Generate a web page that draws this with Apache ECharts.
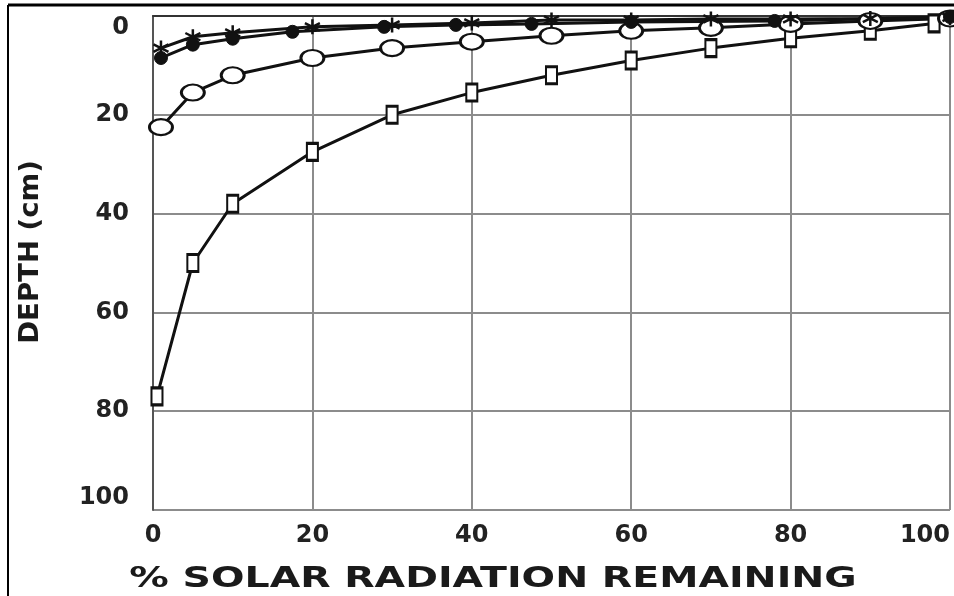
<!DOCTYPE html>
<html>
<head>
<meta charset="utf-8">
<script src="https://cdn.jsdelivr.net/npm/echarts@6/dist/echarts.min.js"></script>
<style>
  html, body { margin: 0; padding: 0; background: #fff; }
  #chart { width: 954px; height: 596px; }
</style>
</head>
<body>
<div id="chart"></div>
<script>
// % solar radiation remaining vs depth (cm), four curves
const xTicks = [0, 20, 40, 60, 80, 100];
const depthTicks = [0, 20, 40, 60, 80, 100];
const xTitle = '% SOLAR RADIATION REMAINING';
const yTitle = 'DEPTH (cm)';

const dotData = [[1, 8.5], [5, 5.8], [10, 4.6], [17.5, 3.2], [29, 2.2], [38, 1.8], [47.5, 1.6], [60, 1.2], [78, 1], [100, 0.2]];
const starData = [[1, 6.5], [5, 4.2], [10, 3.4], [20, 2.2], [30, 1.8], [40, 1.4], [50, 0.8], [60, 0.8], [70, 0.6], [80, 0.6], [90, 0.5], [100, 0.3]];
const circleData = [[1, 22.5], [5, 15.5], [10, 12], [20, 8.5], [30, 6.5], [40, 5.2], [50, 4], [60, 3], [70, 2.4], [80, 1.6], [90, 1], [100, 0.5]];
const squareData = [[0.5, 77], [5, 50], [10, 38], [20, 27.5], [30, 20], [40, 15.5], [50, 12], [60, 9], [70, 6.5], [80, 4.5], [90, 3], [98, 1.5]];

const chart = echarts.init(document.getElementById('chart'));

const lineBase = {
    type: 'line',
    lineStyle: { color: '#111', width: 3 },
    z: 3
};
const labelFont = { fontFamily: 'DejaVu Sans', fontWeight: 'bold', fontSize: 24, color: '#222' };

const option = {
    backgroundColor: '#fff',
    animation: false,
    grid: { left: 153, right: 4, top: 16, bottom: 86, outerBoundsMode: 'none', containLabel: false },
    xAxis: {
        type: 'value',
        min: xTicks[0],
        max: xTicks[xTicks.length - 1],
        interval: 20,
        axisLine: { lineStyle: { color: '#333', width: 2 } },
        axisTick: { show: false },
        axisLabel: Object.assign({
            margin: 14,
            alignMaxLabel: 'right',
            formatter: v => xTicks.includes(v) ? String(v) : ''
        }, labelFont),
        splitLine: { show: true, lineStyle: { color: '#8c8c8c', width: 2 } }
    },
    yAxis: {
        type: 'value',
        inverse: true,
        min: depthTicks[0],
        max: depthTicks[depthTicks.length - 1],
        interval: 20,
        axisLine: { lineStyle: { color: '#555', width: 2 } },
        axisTick: { show: false },
        axisLabel: Object.assign({
            margin: 24,
            verticalAlignMinLabel: 'top',
            verticalAlignMaxLabel: 'bottom'
        }, labelFont),
        splitLine: { show: true, lineStyle: { color: '#8c8c8c', width: 2 } }
    },
    graphic: [
        { type: 'line', shape: { x1: 8, y1: 5, x2: 954, y2: 5 }, style: { stroke: '#000', lineWidth: 3 } },
        { type: 'line', shape: { x1: 8, y1: 5, x2: 8, y2: 596 }, style: { stroke: '#000', lineWidth: 2 } },
        {
            type: 'text', x: 493, y: 579, scaleX: 1.36,
            style: { text: xTitle, fontFamily: 'DejaVu Sans', fontWeight: 'bold', fontSize: 29, fill: '#1a1a1a', align: 'center', verticalAlign: 'middle' }
        },
        {
            type: 'text', x: 31, y: 252, rotation: Math.PI / 2, scaleX: 1.06,
            style: { text: yTitle, fontFamily: 'DejaVu Sans', fontWeight: 'bold', fontSize: 26, fill: '#1a1a1a', align: 'center', verticalAlign: 'middle' }
        }
    ],
    series: [
        Object.assign({}, lineBase, {
            name: 'squares',
            data: squareData,
            symbol: 'rect',
            symbolSize: [11, 17],
            itemStyle: { color: '#fff', borderColor: '#111', borderWidth: 2.5 }
        }),
        Object.assign({}, lineBase, {
            name: 'circles',
            data: circleData,
            symbol: 'circle',
            symbolSize: [23, 16],
            itemStyle: { color: '#fff', borderColor: '#111', borderWidth: 2.5 }
        }),
        Object.assign({}, lineBase, {
            name: 'stars',
            data: starData,
            symbol: 'path://M0,-10L0,10M-9,-5L9,5M-9,5L9,-5',
            symbolSize: 15,
            itemStyle: { color: '#111', borderColor: '#111', borderWidth: 2.5 }
        }),
        Object.assign({}, lineBase, {
            name: 'dots',
            data: dotData,
            symbol: 'circle',
            symbolSize: 13,
            itemStyle: { color: '#111', borderColor: '#111', borderWidth: 1 }
        })
    ]
};

chart.setOption(option);
</script>
</body>
</html>
